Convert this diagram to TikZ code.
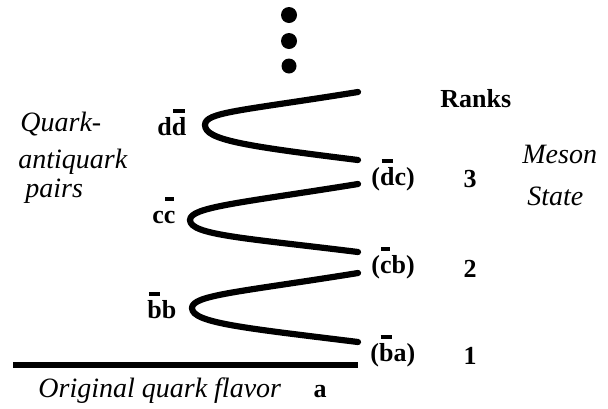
\documentclass[tikz,border=0pt]{standalone}
\usepackage{fontspec}
\setmainfont{Liberation Serif}
\usepackage{tikz}
\usetikzlibrary{calc}

% bar drawn high above a quark letter
\newcommand{\qbar}[1]{\setbox0=\hbox{#1}\rlap{\makebox[\wd0][c]{\raisebox{11pt}{\rule{.8\wd0}{2.2pt}}}}\box0}

\begin{document}
\begin{tikzpicture}[x=0.5pt, y=-0.5pt, line cap=round, line join=round,
  string/.style={line width=3.1pt},
  flavour/.style={font=\fontsize{13}{15}\selectfont\bfseries, inner sep=0pt, anchor=base west},
  rank/.style={font=\fontsize{13}{15}\selectfont\bfseries, inner sep=0pt, anchor=base},
  caption/.style={font=\fontsize{14}{16}\selectfont\itshape, inner sep=0pt, anchor=base west}]

  \useasboundingbox (0,0) rectangle (608,408);

  % ===== string loops =====
  \coordinate (U1) at (358,92);  \coordinate (V1) at (205,125); \coordinate (L1) at (358,160);
  \coordinate (U2) at (358,184); \coordinate (V2) at (190,220); \coordinate (L2) at (358,252);
  \coordinate (U3) at (358,273); \coordinate (V3) at (192,308); \coordinate (L3) at (358,342);

  \draw[string] (U1) .. controls +(-118,19) and +(0,-13) .. (V1)
                     .. controls +(0,15) and +(-113,-14) .. (L1);
  \draw[string] (U2) .. controls +(-118,19) and +(0,-13) .. (V2)
                     .. controls +(0,15) and +(-113,-14) .. (L2);
  \draw[string] (U3) .. controls +(-118,19) and +(0,-13) .. (V3)
                     .. controls +(0,15) and +(-113,-14) .. (L3);

  % ===== original quark line =====
  \coordinate (A0) at (13,365);
  \coordinate (A1) at (358,365);
  \draw[line width=3.2pt, line cap=butt] (A0) -- (A1);

  % ===== more ranks above =====
  \fill (289,15) circle (8);
  \fill (289,41) circle (8);
  \fill (289,66) circle (7.5);

  % ===== pair labels =====
  \node[flavour] (dd) at (157,135) {d\qbar{d}};
  \node[flavour] (cc) at (152,223) {c\qbar{c}};
  \node[flavour] (bb) at (147,318) {\qbar{b}b};

  % ===== meson labels =====
  \node[flavour] (dc) at (371,185) {(\qbar{d}c)};
  \node[flavour] (cb) at (371,273) {(\qbar{c}b)};
  \node[flavour] (ba) at (370,361) {(\qbar{b}a)};

  % ===== ranks =====
  \node[flavour] (ranks) at (440,107) {Ranks};
  \node[rank] (r3) at (470,187) {3};
  \node[rank] (r2) at (470,277) {2};
  \node[rank] (r1) at (470,364) {1};
  \node[rank] (a) at (320,397) {a};

  % ===== captions =====
  \node[caption] (q1) at (20,131) {Quark-};
  \node[caption] (q2) at (18,168) {antiquark};
  \node[caption] (q3) at (25,197) {pairs};
  \node[caption] (m1) at (522,163) {Meson};
  \node[caption] (m2) at (527,205) {State};
  \node[caption] (orig) at (38,397) {Original quark flavor};

\end{tikzpicture}
\end{document}
